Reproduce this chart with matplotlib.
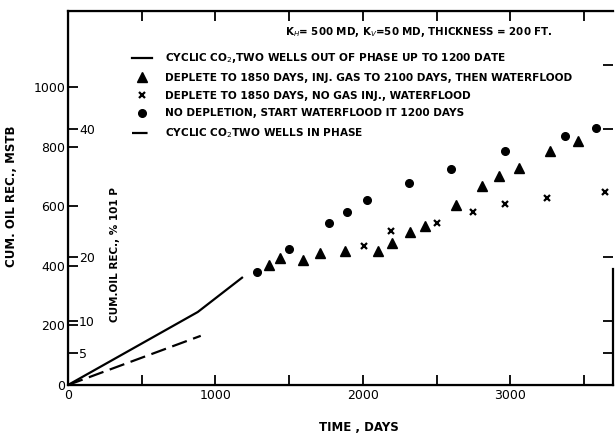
import matplotlib
matplotlib.use("Agg")
import matplotlib.pyplot as plt
from matplotlib.lines import Line2D

# cyclic CO2, two wells out of phase (solid) and in phase (dashed)
out_phase_days = [0, 880, 1180]
out_phase_mstb = [0, 245, 360]
in_phase_days = [0, 900]
in_phase_mstb = [0, 165]

# deplete to 1850 days, inj. gas to 2100 days, then waterflood
tri_days = [1365, 1440, 1595, 1710, 1880, 2100, 2195, 2320, 2420, 2630, 2805, 2925, 3055, 3270, 3460]
tri_mstb = [404, 427, 421, 444, 448, 451, 478, 512, 535, 603, 667, 700, 727, 784, 818]

# deplete to 1850 days, no gas inj., waterflood
x_days = [2005, 2190, 2500, 2745, 2965, 3250, 3640]
x_mstb = [468, 518, 545, 579, 606, 626, 646]

# no depletion, waterflood at 1200 days
dot_days = [1280, 1500, 1770, 1895, 2030, 2310, 2600, 2965, 3370, 3580]
dot_mstb = [380, 458, 545, 580, 620, 678, 724, 785, 835, 862]

labels = [
    "CYCLIC CO$_2$,TWO WELLS OUT OF PHASE UP TO 1200 DATE",
    "DEPLETE TO 1850 DAYS, INJ. GAS TO 2100 DAYS, THEN WATERFLOOD",
    "DEPLETE TO 1850 DAYS, NO GAS INJ., WATERFLOOD",
    "NO DEPLETION, START WATERFLOOD IT 1200 DAYS",
    "CYCLIC CO$_2$TWO WELLS IN PHASE",
]

x_ticks = [0, 500, 1000, 1500, 2000, 2500, 3000, 3500]
x_ticklabels = ["0", "", "1000", "", "2000", "", "3000", ""]
y_ticks = [0, 200, 400, 600, 800, 1000]
pct_ticks = [5, 10, 20, 40]
PCT = 21.5  # MSTB per 1 % IOIP

fig = plt.figure(figsize=(6.15, 4.34), dpi=100)
ax = fig.add_axes([0.1106, 0.1129, 0.886, 0.8618])

ax.plot(out_phase_days, out_phase_mstb, color="black", lw=1.6)
ax.plot(in_phase_days, in_phase_mstb, color="black", lw=1.6, dashes=(7, 3))
ax.plot(tri_days, tri_mstb, "^", color="black", ms=7, ls="none")
ax.plot(x_days, x_mstb, "x", color="black", ms=4, mew=1.6, ls="none")
ax.plot(dot_days, dot_mstb, "o", color="black", ms=5.5, ls="none")

ax.set_xlim(0, 3695)
ax.set_ylim(0, 1255)
ax.set_xticks(x_ticks)
ax.set_xticklabels(x_ticklabels)
ax.set_yticks(y_ticks)
ax.tick_params(axis="both", direction="in", length=7, width=1.3, labelsize=9)
ax.tick_params(axis="x", top=True, pad=3)
ax.tick_params(axis="y", right=True, pad=2)
for s in ax.spines.values():
    s.set_linewidth(1.6)
ax.spines["right"].set_bounds(0, 390)

ax.set_xlabel("TIME , DAYS", fontsize=8.5, fontweight="bold")
ax.xaxis.set_label_coords(0.533, -0.095)
ax.set_ylabel("CUM. OIL REC., MSTB", fontsize=8.5, fontweight="bold")
ax.yaxis.set_label_coords(-0.092, 0.505)

# percent scale drawn on the left spine, labels inside the plot
ax2 = ax.twinx()
ax2.set_ylim(0, 1255 / PCT)
ax2.spines["right"].set_position(("axes", 0))
ax2.spines["right"].set_visible(False)
ax2.set_yticks(pct_ticks)
ax2.tick_params(axis="y", direction="out", length=7, width=1.3, labelsize=9, pad=1)
ax2.set_ylabel("CUM.OIL REC., % 101 P", fontsize=7.5, fontweight="bold", rotation=90)
ax2.yaxis.set_label_coords(0.077, 0.35)

# percent ticks repeated on the right edge
sec = ax.secondary_yaxis("right", functions=(lambda v: v / PCT, lambda p: p * PCT))
sec.set_yticks([5, 10, 20, 40, 50])
sec.tick_params(direction="in", length=7, width=1.3, labelright=False)
sec.spines["right"].set_visible(False)

ax.text(0.643, 0.945, "K$_H$= 500 MD, K$_V$=50 MD, THICKNESS = 200 FT.",
        transform=ax.transAxes, ha="center", va="center", fontsize=7.4, fontweight="bold")

handles = [
    Line2D([], [], color="black", lw=1.6),
    Line2D([], [], marker="^", color="black", ms=7, ls="none"),
    Line2D([], [], marker="x", color="black", ms=4, mew=1.6, ls="none"),
    Line2D([], [], marker="o", color="black", ms=5.5, ls="none"),
    Line2D([], [], color="black", lw=1.6, dashes=(7, 3)),
]
leg = ax.legend(handles, labels, loc="upper left", bbox_to_anchor=(0.118, 0.892),
                frameon=False, borderpad=0, borderaxespad=0, handlelength=1.9,
                handletextpad=1.2, labelspacing=0.73,
                prop={"size": 7.6, "weight": "bold"})

fig.savefig("out.png", dpi=100)
